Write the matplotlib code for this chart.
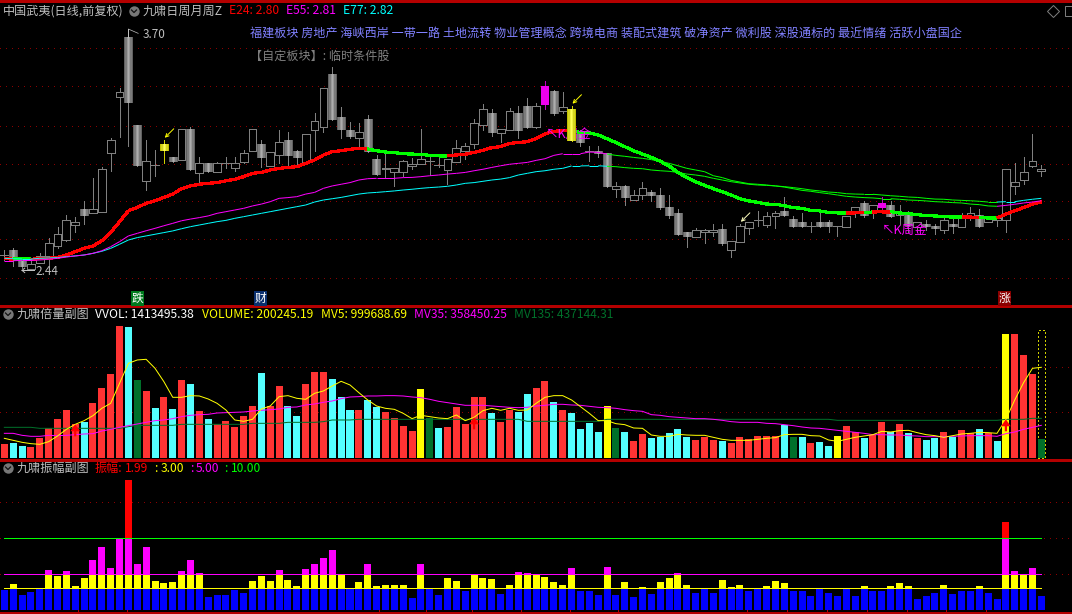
import numpy as np
import matplotlib
matplotlib.use("Agg")
import matplotlib.pyplot as plt
from matplotlib.lines import Line2D
from matplotlib.patches import Rectangle

plt.rcParams["font.family"] = ["Noto Sans CJK SC", "DejaVu Sans"]

W, H = 1072, 614

# daily candles
opens = [2.519, 2.545, 2.487, 2.449, 2.482, 2.518, 2.573, 2.606, 2.687, 2.77,
         2.748, 2.757, 3.072, 3.378, 3.7, 3.223, 2.924, 3.005, 3.122, 3.052,
         3.038, 3.202, 2.968, 3.018, 2.973, 3.016, 2.995, 3.027, 3.086, 3.121,
         3.005, 3.061, 3.142, 3.083, 3.027, 3.196, 3.212, 3.495, 3.266, 3.196,
         3.153, 3.257, 3.041, 2.986, 2.973, 2.969, 3.005, 3.016, 3.027, 3.004,
         2.984, 3.027, 3.086, 3.121, 3.223, 3.29, 3.184, 3.2, 3.29, 3.326,
         3.212, 3.436, 3.403, 3.299, 3.31, 3.175, 3.079, 3.085, 3.072, 2.881,
         2.894, 2.822, 2.845, 2.863, 2.847, 2.78, 2.748, 2.645, 2.622, 2.645,
         2.645, 2.658, 2.552, 2.595, 2.667, 2.708, 2.687, 2.732, 2.761, 2.712,
         2.699, 2.674, 2.699, 2.699, 2.674, 2.676, 2.748, 2.802, 2.755, 2.802,
         2.791, 2.739, 2.748, 2.676, 2.69, 2.68, 2.656, 2.69, 2.676, 2.721,
         2.737, 2.699, 2.71, 2.71, 2.894, 2.926, 3.005, 2.975]
closes = [2.525, 2.505, 2.46, 2.473, 2.519, 2.586, 2.635, 2.71, 2.699, 2.735,
          2.77, 2.986, 3.142, 3.401, 3.346, 3.005, 3.029, 3.009, 3.085, 3.025,
          3.202, 2.984, 3.018, 2.973, 3.018, 3.02, 3.018, 3.072, 3.202, 3.049,
          3.081, 3.131, 3.059, 3.049, 3.175, 3.245, 3.423, 3.252, 3.2, 3.16,
          3.185, 3.081, 2.957, 2.995, 2.995, 3.029, 3.014, 3.04, 3.031, 3.007,
          3.04, 3.099, 3.11, 3.234, 3.31, 3.184, 3.202, 3.299, 3.194, 3.209,
          3.326, 3.333, 3.284, 3.32, 3.14, 3.13, 3.083, 3.07, 2.892, 2.894,
          2.831, 2.845, 2.883, 2.843, 2.779, 2.735, 2.633, 2.622, 2.656, 2.656,
          2.656, 2.581, 2.597, 2.678, 2.699, 2.712, 2.732, 2.748, 2.734, 2.674,
          2.674, 2.678, 2.674, 2.674, 2.678, 2.732, 2.78, 2.735, 2.791, 2.777,
          2.73, 2.757, 2.681, 2.699, 2.676, 2.665, 2.71, 2.676, 2.726, 2.748,
          2.676, 2.721, 2.721, 2.986, 2.915, 2.969, 3.029, 2.986]
highs = [2.55, 2.559, 2.505, 2.505, 2.532, 2.613, 2.676, 2.739, 2.73, 2.815,
         2.941, 3.0, 3.153, 3.423, 3.7, 3.223, 3.144, 3.09, 3.144, 3.052,
         3.202, 3.212, 3.052, 3.018, 3.027, 3.054, 3.054, 3.09, 3.202, 3.144,
         3.081, 3.198, 3.189, 3.09, 3.175, 3.292, 3.423, 3.536, 3.32, 3.243,
         3.234, 3.279, 3.063, 3.081, 2.995, 3.036, 3.045, 3.203, 3.063, 3.054,
         3.04, 3.144, 3.126, 3.257, 3.338, 3.311, 3.202, 3.315, 3.328, 3.369,
         3.342, 3.463, 3.414, 3.403, 3.328, 3.198, 3.112, 3.112, 3.072, 2.917,
         2.901, 2.874, 2.917, 2.874, 2.887, 2.845, 2.77, 2.645, 2.667, 2.662,
         2.69, 2.69, 2.597, 2.69, 2.699, 2.761, 2.753, 2.762, 2.838, 2.734,
         2.748, 2.699, 2.753, 2.712, 2.678, 2.732, 2.78, 2.815, 2.791, 2.838,
         2.815, 2.793, 2.762, 2.699, 2.712, 2.69, 2.721, 2.721, 2.748, 2.78,
         2.771, 2.734, 2.721, 2.986, 3.018, 3.05, 3.175, 3.009]
lows = [2.496, 2.464, 2.451, 2.449, 2.478, 2.469, 2.559, 2.6, 2.649, 2.69,
        2.748, 2.757, 2.977, 3.162, 3.113, 3.005, 2.874, 2.951, 3.022, 3.025,
        3.038, 2.984, 2.906, 2.973, 2.973, 2.991, 2.977, 3.018, 3.086, 3.0,
        3.005, 3.018, 3.005, 3.005, 3.027, 3.086, 3.189, 3.252, 3.157, 3.153,
        3.108, 3.081, 2.957, 2.937, 2.897, 2.951, 2.987, 3.013, 2.955, 3.0,
        2.906, 3.027, 3.04, 3.103, 3.198, 3.167, 3.135, 3.198, 3.157, 3.209,
        3.207, 3.311, 3.279, 3.288, 3.14, 3.113, 3.029, 3.054, 2.892, 2.838,
        2.795, 2.82, 2.824, 2.813, 2.773, 2.725, 2.633, 2.568, 2.622, 2.59,
        2.626, 2.577, 2.514, 2.595, 2.636, 2.68, 2.672, 2.669, 2.734, 2.674,
        2.674, 2.647, 2.674, 2.647, 2.627, 2.676, 2.73, 2.726, 2.725, 2.77,
        2.726, 2.69, 2.649, 2.649, 2.658, 2.635, 2.64, 2.644, 2.676, 2.712,
        2.676, 2.699, 2.68, 2.649, 2.854, 2.906, 3.0, 2.951]

yellow_days = [18, 64]
magenta_days = [61, 99]

e24 = [2.505, 2.5, 2.5, 2.5, 2.503, 2.505, 2.51, 2.523, 2.541, 2.559,
       2.572, 2.6, 2.645, 2.703, 2.762, 2.78, 2.802, 2.816, 2.834, 2.852,
       2.881, 2.896, 2.905, 2.91, 2.914, 2.924, 2.932, 2.946, 2.964, 2.969,
       2.982, 2.991, 2.996, 3.0, 3.018, 3.036, 3.063, 3.081, 3.086, 3.094,
       3.099, 3.095, 3.086, 3.079, 3.076, 3.07, 3.068, 3.067, 3.061, 3.059,
       3.059, 3.063, 3.067, 3.077, 3.088, 3.103, 3.108, 3.126, 3.13, 3.135,
       3.151, 3.176, 3.191, 3.194, 3.193, 3.185, 3.182, 3.171, 3.151, 3.13,
       3.108, 3.086, 3.068, 3.05, 3.029, 3.004, 2.968, 2.942, 2.919, 2.899,
       2.881, 2.865, 2.847, 2.827, 2.815, 2.807, 2.798, 2.797, 2.789, 2.779,
       2.775, 2.764, 2.761, 2.753, 2.752, 2.752, 2.752, 2.753, 2.755, 2.757,
       2.757, 2.75, 2.746, 2.741, 2.735, 2.734, 2.73, 2.728, 2.728, 2.728,
       2.725, 2.723, 2.723, 2.744, 2.762, 2.779, 2.798, 2.809]
e55 = [2.492, 2.492, 2.494, 2.494, 2.496, 2.5, 2.505, 2.512, 2.518, 2.523,
       2.532, 2.546, 2.568, 2.595, 2.626, 2.64, 2.654, 2.667, 2.681, 2.694,
       2.708, 2.717, 2.725, 2.734, 2.748, 2.757, 2.766, 2.775, 2.788, 2.798,
       2.811, 2.829, 2.833, 2.838, 2.852, 2.861, 2.883, 2.896, 2.905, 2.914,
       2.928, 2.935, 2.937, 2.937, 2.937, 2.941, 2.942, 2.946, 2.951, 2.955,
       2.96, 2.964, 2.969, 2.978, 2.986, 2.996, 3.005, 3.013, 3.018, 3.023,
       3.034, 3.043, 3.061, 3.07, 3.07, 3.07, 3.079, 3.077, 3.068, 3.061,
       3.056, 3.05, 3.045, 3.038, 3.029, 3.018, 3.005, 2.991, 2.982, 2.973,
       2.951, 2.941, 2.926, 2.917, 2.908, 2.905, 2.901, 2.896, 2.89, 2.881,
       2.872, 2.867, 2.86, 2.854, 2.847, 2.84, 2.836, 2.833, 2.831, 2.827,
       2.827, 2.824, 2.82, 2.818, 2.815, 2.811, 2.809, 2.806, 2.804, 2.798,
       2.795, 2.788, 2.786, 2.791, 2.797, 2.804, 2.809, 2.816]
e77 = [2.505, 2.503, 2.501, 2.501, 2.505, 2.507, 2.509, 2.514, 2.518, 2.523,
       2.532, 2.543, 2.559, 2.581, 2.604, 2.617, 2.626, 2.635, 2.644, 2.653,
       2.665, 2.676, 2.685, 2.694, 2.703, 2.71, 2.721, 2.73, 2.739, 2.748,
       2.757, 2.766, 2.775, 2.784, 2.793, 2.809, 2.82, 2.827, 2.834, 2.843,
       2.852, 2.858, 2.861, 2.865, 2.869, 2.874, 2.878, 2.883, 2.887, 2.89,
       2.894, 2.901, 2.91, 2.914, 2.921, 2.928, 2.933, 2.941, 2.955, 2.964,
       2.973, 2.978, 2.986, 2.991, 3.004, 3.004, 3.005, 3.005, 3.002, 3.0,
       2.995, 2.991, 2.989, 2.982, 2.978, 2.975, 2.969, 2.96, 2.955, 2.948,
       2.937, 2.928, 2.919, 2.912, 2.905, 2.901, 2.899, 2.896, 2.892, 2.887,
       2.881, 2.874, 2.869, 2.863, 2.86, 2.854, 2.852, 2.851, 2.851, 2.847,
       2.843, 2.84, 2.836, 2.834, 2.829, 2.825, 2.824, 2.82, 2.818, 2.816,
       2.813, 2.809, 2.809, 2.811, 2.811, 2.818, 2.824, 2.829]

# stretches where the averages are drawn green
e24_green = [(1, 3), (41, 50), (64, 95), (97, 98), (100, 108), (110, 112)]
slow_green = [(68, 112)]

# volume, read as bar heights; one unit is about 3.67 thousand
VOL_UNIT = 3.67
vol_heights = [42, 45, 36, 33, 60, 89, 117, 144, 102, 109,
               165, 210, 252, 396, 393, 234, 201, 150, 183, 147,
               234, 222, 141, 117, 102, 111, 93, 126, 156, 255,
               156, 216, 156, 126, 222, 258, 258, 237, 183, 144,
               144, 174, 153, 138, 120, 96, 81, 207, 120, 90,
               93, 153, 102, 183, 183, 135, 108, 144, 138, 192,
               210, 231, 168, 144, 135, 87, 105, 78, 156, 90,
               78, 51, 72, 60, 63, 75, 87, 63, 54, 63,
               54, 51, 45, 63, 57, 66, 66, 66, 99, 63,
               63, 45, 48, 36, 66, 96, 78, 60, 69, 108,
               78, 102, 75, 60, 54, 60, 78, 63, 84, 75,
               87, 75, 51, 372, 372, 309, 252, 57]
vol_colors = list("RCCRRRRRRC" "RRRRCGRCRC" "RCRCRRRRRC" "RRCCRRRCCC"
                  "RCCRRRRYGC" "RRRRRCRRCC" "RRCRCCCCYG" "CRRCCCCCRR"
                  "RCRRRRRRCG" "CRCCYRRCRR" "CRCRCCRCRR" "CRCYRRRG")
mv5 = [59, 53, 47, 43, 41, 49, 66, 86, 101, 112,
       127, 149, 164, 224, 284, 294, 296, 269, 229, 182,
       182, 187, 186, 177, 164, 144, 114, 110, 116, 147,
       156, 184, 187, 179, 176, 194, 201, 216, 230, 219,
       196, 174, 156, 149, 146, 134, 118, 128, 124, 120,
       118, 129, 112, 122, 142, 149, 143, 149, 143, 144,
       164, 182, 187, 187, 174, 154, 134, 112, 112, 103,
       100, 90, 89, 69, 65, 65, 71, 69, 68, 68,
       62, 56, 53, 53, 53, 56, 59, 61, 70, 71,
       71, 67, 66, 54, 50, 56, 62, 66, 70, 80,
       78, 82, 83, 76, 70, 67, 62, 67, 72, 74,
       77, 76, 74, 116, 174, 226, 269, 272]
mv35 = [74, 74, 68, 65, 65, 68, 67, 68, 70, 72,
        73, 81, 86, 92, 97, 102, 107, 112, 114, 118,
        124, 128, 130, 131, 135, 136, 137, 138, 141, 143,
        145, 147, 152, 153, 159, 162, 167, 171, 178, 183,
        184, 186, 186, 187, 187, 186, 183, 181, 176, 170,
        166, 162, 158, 158, 158, 156, 154, 152, 151, 152,
        156, 158, 161, 161, 159, 158, 155, 152, 151, 149,
        145, 142, 140, 130, 128, 124, 122, 120, 118, 118,
        116, 113, 109, 107, 107, 107, 104, 103, 100, 97,
        93, 90, 89, 86, 83, 80, 77, 74, 70, 70,
        69, 69, 67, 66, 64, 64, 64, 65, 66, 67,
        67, 67, 65, 73, 78, 86, 92, 98]
mv135 = [92, 92, 92, 92, 89, 89, 89, 89, 89, 89,
         89, 89, 89, 89, 94, 98, 98, 98, 98, 98,
         101, 101, 101, 101, 101, 101, 101, 101, 104, 104,
         104, 104, 107, 107, 107, 107, 109, 114, 114, 114,
         116, 116, 116, 116, 116, 116, 116, 116, 116, 116,
         116, 116, 116, 116, 116, 116, 116, 116, 116, 110,
         110, 110, 110, 110, 110, 110, 110, 110, 116, 116,
         116, 116, 116, 116, 116, 116, 116, 116, 116, 116,
         116, 116, 116, 116, 116, 116, 116, 116, 116, 116,
         116, 116, 116, 116, 113, 113, 113, 113, 113, 113,
         113, 113, 113, 113, 113, 113, 113, 113, 113, 113,
         113, 113, 113, 116, 116, 116, 119, 119]
wvol_height = 383
volume_marks = [8, 53, 113]

# daily amplitude in percent
amplitude = [2.8, 3.6, 2.08, 2.5, 2.9, 5.55, 4.7, 5.4, 3.3, 4.4,
             6.9, 8.75, 5.8, 9.9, 18.1, 6.4, 8.75, 4.0, 3.75, 3.9,
             5.4, 6.9, 5.1, 1.8, 2.1, 2.1, 2.8, 2.4, 4.0, 4.7,
             4.0, 5.55, 4.2, 3.3, 5.7, 6.4, 7.2, 8.3, 4.9, 2.9,
             3.9, 6.4, 3.3, 3.5, 3.5, 3.5, 1.7, 6.4, 2.9, 2.1,
             4.4, 4.0, 2.6, 4.9, 4.4, 4.3, 2.2, 3.5, 5.3, 5.1,
             4.9, 4.6, 3.9, 3.5, 5.8, 2.6, 2.6, 2.1, 6.0, 2.1,
             3.9, 1.8, 3.2, 2.2, 3.9, 4.4, 5.1, 3.5, 2.4, 2.9,
             2.4, 4.2, 3.2, 3.5, 2.6, 2.9, 3.3, 4.0, 3.75, 2.6,
             2.6, 1.95, 2.9, 2.4, 1.95, 2.9, 1.95, 3.3, 2.6, 2.6,
             3.3, 3.75, 3.3, 1.5, 1.95, 2.4, 3.5, 2.2, 2.6, 2.6,
             3.3, 2.4, 1.5, 12.2, 5.4, 4.9, 5.8, 1.99]
amp_levels = [3, 5, 10]

concepts = "福建板块 房地产 海峡西岸 一带一路 土地流转 物业管理概念 跨境电商 装配式建筑 破净资产 微利股 深股通标的 最近情绪 活跃小盘国企"

GRID = "#8c0000"
LINE = "#b40000"
GRAY = "#808080"
VOL_COLORS = {"R": "#ff3333", "C": "#54ffff", "G": "#00702a", "Y": "#ffff00"}
THIN = 0.5
CURVE = 0.72

days = np.arange(len(opens))
xlim = (-0.489, 120.46)


def panel(fig, top, bottom, ylim):
    ax = fig.add_axes([0, 1 - bottom / H, 1, (bottom - top) / H])
    ax.set_facecolor("black")
    ax.set_xlim(xlim)
    ax.set_ylim(ylim)
    ax.axis("off")
    return ax


def grid(ax, levels):
    for level in levels:
        ax.axhline(level, color=GRID, lw=THIN, dashes=(1.44, 7.2), antialiased=False, zorder=0)


def in_spans(i, spans):
    return any(a <= i < b for a, b in spans)


def colored_line(ax, values, base, spans, lw, aliased=False, zorder=4):
    for i in days[:-1]:
        color = "#00ff00" if in_spans(i, spans) else base
        ax.plot([i, i + 1], [values[i], values[i + 1]], color=color, lw=lw,
                solid_capstyle="butt", antialiased=not aliased, zorder=zorder)


def px_text(fig, x, y, s, color, size=8.7, **kw):
    fig.text(x / W, 1 - y / H, s, color=color, fontsize=size, va="center", ha="left", **kw)


def icon(fig, x, y):
    fig.add_artist(Line2D([x / W], [1 - y / H], marker="o", ms=7.5, color="#777777", mew=0))
    fig.add_artist(Line2D([(x - 2.5) / W, x / W, (x + 2.5) / W],
                          [1 - (y - 1) / H, 1 - (y + 1.5) / H, 1 - (y - 1) / H],
                          color="#111111", lw=0.9))


def body_fill(ax, i, top, bottom, width, edge, mid, zorder=2):
    edge, mid = np.array(edge), np.array(mid)
    steps = np.array([0, 0.35, 0.75, 1, 0.75, 0.35, 0])
    strip = edge + (mid - edge) * steps[:, None]
    ax.imshow(strip[None, :, :], extent=(i - width, i + width, bottom, top),
              aspect="auto", interpolation="nearest", zorder=zorder)


def draw_candles(ax):
    width = 0.47
    for i in days:
        top, bottom = max(opens[i], closes[i]), min(opens[i], closes[i])
        wick = "#d0d000" if i in yellow_days else ("#c000c0" if i in magenta_days else GRAY)
        ax.vlines(i, lows[i], highs[i], color=wick, lw=THIN, antialiased=False, zorder=1)
        if i in yellow_days:
            body_fill(ax, i, top, bottom, width, (0.75, 0.75, 0), (1, 1, 0.35), zorder=5)
        elif i in magenta_days:
            ax.add_patch(Rectangle((i - width, bottom), 2 * width, top - bottom,
                                   fc="#ee00ee", ec="none", zorder=5))
        elif closes[i] >= opens[i]:
            if top - bottom < 0.006:
                ax.hlines(top, i - width, i + width, color=GRAY, lw=THIN,
                          antialiased=False, zorder=2)
            else:
                ax.add_patch(Rectangle((i - width + 0.03, bottom), 2 * width - 0.06, top - bottom,
                                       fc="black", ec=GRAY, lw=THIN, antialiased=False, zorder=2))
        else:
            body_fill(ax, i, top, bottom, width, (0.38, 0.38, 0.38), (0.68, 0.68, 0.68))


def main():
    fig = plt.figure(figsize=(W / 100, H / 100), dpi=100, facecolor="black")

    # price panel
    ylim1 = (3.9 - 0.0054 * 306, 3.9 - 0.0054 * 1)
    ax1 = panel(fig, 1, 306, ylim1)
    grid(ax1, [3.639, 3.434, 3.222, 3.017, 2.813, 2.608, 2.397])
    draw_candles(ax1)
    colored_line(ax1, e24, "#ff0000", e24_green, 1.6, aliased=True)
    colored_line(ax1, e77, "#00ffff", slow_green, CURVE)
    colored_line(ax1, e55, "#ff00ff", slow_green, CURVE)
    ax1.set_xlim(xlim)
    ax1.set_ylim(ylim1)

    for day, color in [(18, "#ffff00"), (64, "#ffff00"), (83, "#ffffc0")]:
        ax1.annotate("", xy=(day + 0.1, highs[day] + 0.012), xytext=(9, 9), textcoords="offset pixels",
                     arrowprops=dict(arrowstyle="->", color=color, lw=THIN + 0.2, mutation_scale=6,
                                     shrinkA=0, shrinkB=0), zorder=6)
    hi = int(np.argmax(highs))
    ax1.plot([hi, hi], [highs[hi], highs[hi] + 0.043], color="#c0c0c0", lw=THIN, antialiased=False, zorder=6)
    ax1.plot([hi, hi + 1.1], [highs[hi] + 0.043, highs[hi] + 0.02], color="#c0c0c0", lw=THIN, zorder=6)
    ax1.annotate(f"{highs[hi]:.2f}", xy=(hi, highs[hi]), xytext=(14.5, 3), textcoords="offset pixels",
                 color="#c0c0c0", fontsize=8.5, va="center", zorder=6)
    ax1.annotate("2.44", xy=(2, 2.44), xytext=(13, -1), textcoords="offset pixels",
                 color="#c0c0c0", fontsize=8.5, va="center", zorder=6)
    ax1.plot([2.0, 3.4], [2.44, 2.44], color="#c0c0c0", lw=THIN, antialiased=False, zorder=6)
    ax1.plot([2.0, 2.3], [2.44, 2.452], color="#c0c0c0", lw=CURVE, zorder=6)
    ax1.plot([2.0, 2.3], [2.44, 2.428], color="#c0c0c0", lw=CURVE, zorder=6)
    ax1.text(61.1, 3.176, "↖K周金", color="#ff00ff", fontsize=9, va="center", zorder=4.5)
    ax1.text(99.0, 2.658, "↖K周金", color="#ff00ff", fontsize=9, va="center", zorder=6)

    # volume panel
    ax2 = panel(fig, 306, 460, (-22, 1673))
    grid(ax2, [998, 503])
    volumes = np.array(vol_heights) * VOL_UNIT
    ax2.bar(days, volumes, width=0.79, color=[VOL_COLORS[c] for c in vol_colors],
            antialiased=False, zorder=2)
    ax2.bar(days[-1], wvol_height * VOL_UNIT, width=0.79, fc="none", ec="#d0d000", lw=THIN,
            ls=(0, (2, 3)), antialiased=False, zorder=1.5)
    ax2.plot(days, np.array(mv135) * VOL_UNIT, color="#00702a", lw=CURVE, zorder=3)
    ax2.plot(days, np.array(mv35) * VOL_UNIT, color="#ff00ff", lw=CURVE, zorder=3)
    ax2.plot(days, np.array(mv5) * VOL_UNIT, color="#ffff00", lw=CURVE, zorder=3)
    for day in volume_marks:
        ax2.annotate("", xy=(day, mv5[day] * VOL_UNIT), xytext=(0, -12), textcoords="offset pixels",
                     arrowprops=dict(width=1.6, headwidth=7, headlength=5, color="#ff0000", lw=0,
                                     shrink=0), zorder=4)

    # amplitude panel
    ax3 = panel(fig, 460, 612.5, (-0.37, 20.83))
    grid(ax3, [15, 10, 5])
    amp = np.array(amplitude)
    ax3.bar(days, np.minimum(amp, 2.9), width=0.79, color="#0000ff", antialiased=False, zorder=2)
    bands = [(3, 5, "#ffff00"), (5, 10, "#ff00ff"), (10, 30, "#ff0000")]
    for low, high, color in bands:
        seg = np.clip(amp, low, high) - low
        ax3.bar(days, seg, bottom=low, width=0.79, color=color, antialiased=False, zorder=2)
    for level, color in zip(amp_levels, ["#ffff00", "#ff00ff", "#00ff00"]):
        ax3.plot([days[0], days[-1]], [level, level], color=color, lw=THIN, antialiased=False, zorder=3)

    # panel borders and date ticks
    for y in [1, 306, 460, 612.5]:
        fig.add_artist(Line2D([0, 1], [1 - y / H, 1 - y / H], color=LINE, lw=0.8, antialiased=False))
    for x in [816, 850, 885, 920, 955, 990, 1025, 1060]:
        fig.add_artist(Line2D([x / W, x / W], [1, 1 - 2 / H], color=LINE, lw=THIN, antialiased=False))
    for x in [78, 127, 379, 426, 472, 521, 570, 618, 747, 787, 827, 867, 907, 946, 986]:
        fig.add_artist(Line2D([x / W, x / W], [1 - 610 / H, 1 - 613 / H], color=LINE, lw=THIN,
                              antialiased=False))

    # header texts
    px_text(fig, 3, 11, "中国武夷(日线,前复权)", "#c0c0c0")
    icon(fig, 134, 11)
    px_text(fig, 143, 11, "九啸日周月周Z", "#c0c0c0")
    px_text(fig, 229, 11, "E24: 2.80", "#ff0000")
    px_text(fig, 286, 11, "E55: 2.81", "#ff00ff")
    px_text(fig, 343, 11, "E77: 2.82", "#00ffff")
    px_text(fig, 250, 33, concepts, "#8080ff")
    px_text(fig, 250, 56, "【自定板块】: 临时条件股", GRAY)
    fig.add_artist(Line2D([1053 / W], [1 - 11 / H], marker="D", ms=6, mfc="none", mec="#808080", mew=0.7))
    fig.add_artist(Line2D([1069.5 / W], [1 - 11 / H], marker="s", ms=7, mfc="none", mec="#808080", mew=0.7))

    for x, s, color in [(131, "跌", "#007a1e"), (254, "财", "#0a2f6e"), (998, "涨", "#8c0000")]:
        fig.text((x + 6.5) / W, 1 - 298.5 / H, s, color="white", fontsize=8.5, ha="center", va="center",
                 bbox=dict(fc=color, ec="none", pad=0.6))

    icon(fig, 8, 314)
    px_text(fig, 17, 314, "九啸倍量副图", "#c0c0c0")
    px_text(fig, 95, 314, "VVOL: 1413495.38", "#ffffff")
    px_text(fig, 202, 314, "VOLUME: 200245.19", "#ffff00")
    px_text(fig, 321, 314, "MV5: 999688.69", "#ffff00")
    px_text(fig, 414, 314, "MV35: 358450.25", "#ff00ff")
    px_text(fig, 514, 314, "MV135: 437144.31", "#00702a")

    icon(fig, 8, 468)
    px_text(fig, 17, 468, "九啸振幅副图", "#c0c0c0")
    px_text(fig, 95, 468, "振幅:", "#ff0000")
    px_text(fig, 125, 468, "1.99", "#ff0000")
    px_text(fig, 154, 468, ":", "#ffff00")
    px_text(fig, 161, 468, "3.00", "#ffff00")
    px_text(fig, 190, 468, ":", "#ff00ff")
    px_text(fig, 196, 468, "5.00", "#ff00ff")
    px_text(fig, 224, 468, ":", "#00ff00")
    px_text(fig, 231, 468, "10.00", "#00ff00")

    fig.savefig("out.png", dpi=100, facecolor="black")


if __name__ == "__main__":
    main()
